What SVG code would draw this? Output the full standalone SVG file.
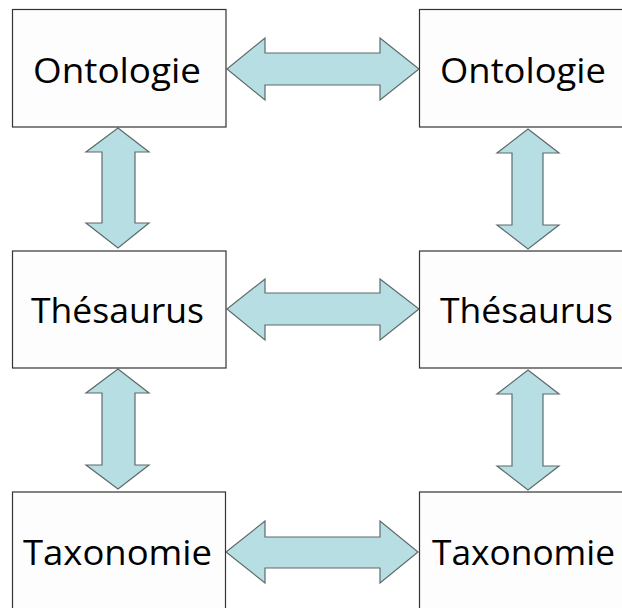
<svg xmlns="http://www.w3.org/2000/svg" width="622" height="608" viewBox="0 0 622 608">
<style>
.box{fill:#fdfdfd;stroke:#333;stroke-width:1.2}
.lbl{font-family:"Open Sans","DejaVu Sans",sans-serif;font-size:34px;fill:#000;text-anchor:middle}
.arr{fill:#b7dfe3;stroke:#5f6b6b;stroke-width:1.2;stroke-linejoin:miter}
</style>
<rect width="622" height="608" fill="#fff"/>
<g id="connectors">
<path class="arr" d="M227,69 L265,38 L265,53 L380,53 L380,38 L419,69 L380,100 L380,85 L265,85 L265,100 Z"/>
<path class="arr" d="M227,309 L265,279 L265,293 L380,293 L380,279 L419,309 L380,340 L380,325 L265,325 L265,340 Z"/>
<path class="arr" d="M226,552 L265,521 L265,537 L380,537 L380,521 L418,552 L380,583 L380,568 L265,568 L265,583 Z"/>
<path class="arr" d="M118,128 L149,152 L135,152 L135,223 L149,223 L118,248 L86,223 L102,223 L102,152 L86,152 Z"/>
<path class="arr" d="M118,369 L149,393 L135,393 L135,465 L149,465 L118,489 L86,465 L102,465 L102,393 L86,393 Z"/>
<path class="arr" d="M528,129 L559,153 L543,153 L543,225 L559,225 L528,249 L497,225 L512,225 L512,153 L497,153 Z"/>
<path class="arr" d="M528,370 L559,394 L543,394 L543,466 L559,466 L528,490 L497,466 L512,466 L512,394 L497,394 Z"/>
</g>
<g id="onto-left"><rect class="box" x="12.5" y="9.5" width="213.5" height="117.5"/><text class="lbl" x="117" y="83" textLength="168" lengthAdjust="spacingAndGlyphs">Ontologie</text></g>
<g id="onto-right"><rect class="box" x="419.5" y="9.5" width="213.5" height="117.5"/><text class="lbl" x="523" y="83" textLength="166" lengthAdjust="spacingAndGlyphs">Ontologie</text></g>
<g id="thes-left"><rect class="box" x="12.5" y="251" width="213.5" height="117"/><text class="lbl" x="117.5" y="323" textLength="173" lengthAdjust="spacingAndGlyphs">Thésaurus</text></g>
<g id="thes-right"><rect class="box" x="419.5" y="251" width="213.5" height="117"/><text class="lbl" x="526.5" y="323" textLength="173" lengthAdjust="spacingAndGlyphs">Thésaurus</text></g>
<g id="taxo-left"><rect class="box" x="12.5" y="492" width="213" height="130"/><text class="lbl" x="117.5" y="565" textLength="189" lengthAdjust="spacingAndGlyphs">Taxonomie</text></g>
<g id="taxo-right"><rect class="box" x="419.5" y="492" width="213" height="130"/><text class="lbl" x="523.5" y="565" textLength="183" lengthAdjust="spacingAndGlyphs">Taxonomie</text></g>
</svg>
